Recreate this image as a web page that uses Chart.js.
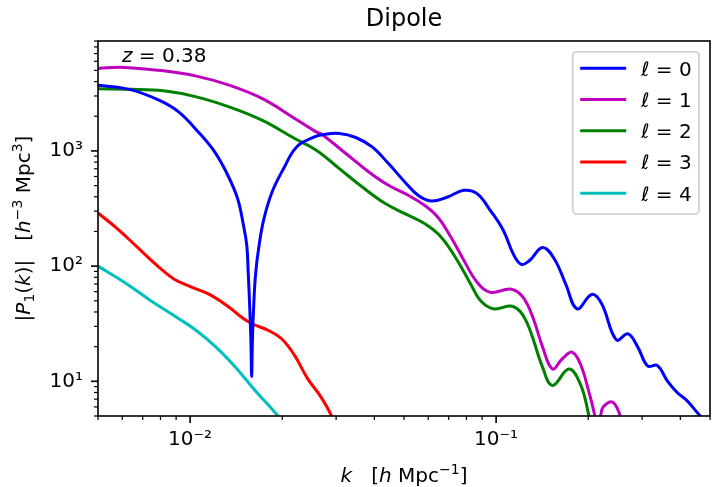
<!DOCTYPE html>
<html>
<head>
<meta charset="utf-8">
<script src="https://cdn.jsdelivr.net/npm/chart.js@4.4.1/dist/chart.umd.min.js"></script>
<style>
    html, body { margin: 0; padding: 0; overflow: hidden; background: #fff; }
    #wrap { width: 722px; height: 487px; }
</style>
</head>
<body>
<div id="wrap"><canvas id="dipole-chart" width="722" height="487"></canvas></div>
<script>
// Dipole multipoles |P_1(k)| at z = 0.38

let kL0 = [0.0050, 0.00633, 0.00791, 0.00917, 0.01063, 0.01203, 0.01328, 0.01429, 0.01494, 0.01532,
    0.01549, 0.01566, 0.01580, 0.01589, 0.01598, 0.01613, 0.01637, 0.01680, 0.01743, 0.01853,
    0.02021, 0.02229, 0.02547, 0.02717, 0.03073, 0.03477, 0.03934, 0.04449, 0.05031, 0.05555,
    0.06135, 0.06937, 0.07849, 0.08662, 0.09566, 0.1056, 0.1137, 0.1209, 0.1286, 0.1419,
    0.1548, 0.1687, 0.1839, 0.2055, 0.2213, 0.2472, 0.2698, 0.2904, 0.3127, 0.3367,
    0.3626, 0.3905, 0.4205, 0.4638, 0.50];
let pL0 = [3726, 3420, 2760, 2183, 1463, 980, 615, 386, 226, 151,
    85.9, 44.0, 22.6, 11.0, 22.6, 44.0, 85.9, 151, 258, 440,
    703, 1083, 1323, 1388, 1417, 1308, 1083, 777, 538, 412,
    367, 398, 455, 426, 305, 204, 128, 103.5, 112, 145,
    116, 70.3, 42.6, 56.8, 47.1, 22.9, 25.8, 19.8, 13.6, 13.7,
    10.1, 8.0, 6.8, 5.03, 4.2];

let kL1 = [0.0050, 0.00609, 0.00819, 0.01048, 0.01341, 0.01717, 0.02197, 0.02547, 0.02717, 0.03228,
    0.03836, 0.04449, 0.05160, 0.05837, 0.06442, 0.07114, 0.07849, 0.08662, 0.09566, 0.1122,
    0.1224, 0.1318, 0.1419, 0.1528, 0.1646, 0.1772, 0.1884, 0.2005, 0.2106, 0.2149,
    0.2213, 0.2297, 0.2401, 0.2491, 0.2547, 0.2604];
let pL1 = [5206, 5312, 4963, 4462, 3726, 2855, 1913, 1493, 1369, 949,
    657, 503, 412, 337, 267, 179, 112, 72.6, 59.4, 63.1,
    53.8, 36.0, 19.8, 12.8, 15.7, 17.9, 14.2, 8.3, 4.86, 3.05,
    5.6, 6.4, 6.6, 5.8, 4.86, 3.05];

let kL2 = [0.0050, 0.00639, 0.00819, 0.01048, 0.01341, 0.01717, 0.02197, 0.02585, 0.03073, 0.03653,
    0.04342, 0.05031, 0.05837, 0.06606, 0.07468, 0.08247, 0.08884, 0.09802, 0.1137, 0.1252,
    0.1419, 0.1528, 0.1729, 0.1884, 0.2005, 0.2086];
let pL2 = [3459, 3430, 3324, 2948, 2413, 1849, 1282, 1014, 703, 486,
    349, 286, 234, 179, 112, 70.3, 50.3, 42.6, 44.6, 33.7,
    13.2, 9.2, 12.8, 9.5, 5.2, 3.05];

let kL3 = [0.0050, 0.00579, 0.00672, 0.00779, 0.00882, 0.00997, 0.01156, 0.01341, 0.01481, 0.01594,
    0.01803, 0.01991, 0.02197, 0.02424, 0.02678, 0.02895, 0.02999];
let pL3 = [289, 211, 146, 101.4, 77.7, 66.6, 56.8, 44.0, 35.6, 31.6,
    27.6, 23.4, 16.7, 10.5, 7.3, 5.03, 3.73];

let kL4 = [0.0050, 0.00609, 0.00742, 0.00903, 0.01048, 0.01215, 0.01409, 0.01633, 0.01933, 0.01995];
let pL4 = [100, 72.6, 50.3, 36.0, 27.6, 19.8, 13.2, 8.3, 5.03, 4.37];

let seriesLabels = ['ℓ = 0', 'ℓ = 1', 'ℓ = 2', 'ℓ = 3', 'ℓ = 4'];
let seriesColors = ['#0000ff', '#bf00bf', '#008000', '#ff0000', '#00bfbf'];

let kRange = [0.005, 0.5];
let pRange = [5, 9000];
let titleText = 'Dipole';
let redshiftText = 'z = 0.38';

const fontFamily = '"DejaVu Sans", "Liberation Sans", sans-serif';
const supChars = { '-': '⁻', '0': '⁰', '1': '¹', '2': '²', '3': '³', '4': '⁴', '5': '⁵', '6': '⁶', '7': '⁷', '8': '⁸', '9': '⁹' };

function isPow10(v) {
    let e = Math.log10(v);
    return Math.abs(e - Math.round(e)) < 1e-6;
}

function powLabel(v) {
    let e = String(Math.round(Math.log10(v)));
    return '10' + e.split('').map(c => supChars[c]).join('');
}

// 1..9 x 10^n inside the range, like matplotlib's log locator
function logTicks(range) {
    let out = [];
    for (let e = Math.floor(Math.log10(range[0])); e <= Math.ceil(Math.log10(range[1])); e++) {
        for (let m = 1; m <= 9; m++) {
            let v = parseFloat((m * Math.pow(10, e)).toPrecision(6));
            if (v >= range[0] * 0.9999 && v <= range[1] * 1.0001) out.push(v);
        }
    }
    return out;
}

function toPoints(ks, ps) {
    return ks.map((k, i) => ({ x: k, y: ps[i] }));
}

function drawParts(ctx, parts, x, y, align) {
    const fontOf = p => (p.it ? 'italic ' : '') + ((p.sup || p.sub) ? 14 : 20) + 'px ' + fontFamily;
    let widths = parts.map(p => { ctx.font = fontOf(p); return ctx.measureText(p.t).width; });
    let total = widths.reduce((a, b) => a + b, 0);
    let cx = align === 'center' ? x - total / 2 : x;
    parts.forEach((p, i) => {
        ctx.font = fontOf(p);
        ctx.fillText(p.t, cx, y + (p.sup ? -8 : p.sub ? 4 : 0));
        cx += widths[i];
    });
}

const decorations = {
    id: 'decorations',
    afterDraw(chart) {
        const ctx = chart.ctx;
        const area = chart.chartArea;
        const xs = chart.scales.x;
        const ys = chart.scales.y;
        ctx.save();
        ctx.strokeStyle = '#000';
        ctx.fillStyle = '#000';

        // tick marks, outward
        xs.ticks.forEach(t => {
            let major = isPow10(t.value);
            let px = xs.getPixelForValue(t.value);
            ctx.lineWidth = major ? 1.6 : 1.2;
            ctx.beginPath();
            ctx.moveTo(px, area.bottom);
            ctx.lineTo(px, area.bottom + (major ? 7 : 4));
            ctx.stroke();
        });
        ys.ticks.forEach(t => {
            let major = isPow10(t.value);
            let py = ys.getPixelForValue(t.value);
            ctx.lineWidth = major ? 1.6 : 1.2;
            ctx.beginPath();
            ctx.moveTo(area.left, py);
            ctx.lineTo(area.left - (major ? 7 : 4), py);
            ctx.stroke();
        });

        // frame
        ctx.lineWidth = 1.6;
        ctx.strokeRect(area.left, area.top, area.right - area.left, area.bottom - area.top);

        // axis labels
        ctx.textAlign = 'left';
        ctx.textBaseline = 'alphabetic';
        drawParts(ctx, [
            { t: 'k', it: true }, { t: '   [' }, { t: 'h', it: true }, { t: ' Mpc' },
            { t: '−1', sup: true }, { t: ']' }
        ], (area.left + area.right) / 2, 481.5, 'center');

        ctx.save();
        ctx.translate(30, (area.top + area.bottom) / 2);
        ctx.rotate(-Math.PI / 2);
        drawParts(ctx, [
            { t: '|' }, { t: 'P', it: true }, { t: '1', sub: true }, { t: '(' }, { t: 'k', it: true },
            { t: ')|   [' }, { t: 'h', it: true }, { t: '−3', sup: true }, { t: ' Mpc' },
            { t: '3', sup: true }, { t: ']' }
        ], 0, 0, 'center');
        ctx.restore();

        // redshift note
        let zParts = redshiftText.split(' = ');
        drawParts(ctx, [{ t: zParts[0], it: true }, { t: ' = ' + zParts[1] }], area.left + 24, area.top + 20.7, 'left');

        // legend box in the upper right
        let boxW = 126.3, boxH = 162.3;
        let bx = area.right - 11 - boxW, by = area.top + 10.7;
        ctx.beginPath();
        ctx.roundRect(bx, by, boxW, boxH, 4);
        ctx.fillStyle = 'rgba(255, 255, 255, 0.8)';
        ctx.fill();
        ctx.strokeStyle = '#cccccc';
        ctx.lineWidth = 1.6;
        ctx.stroke();

        ctx.font = '20px ' + fontFamily;
        chart.data.datasets.forEach((ds, i) => {
            let ly = by + 16.6 + i * 31.25;
            ctx.strokeStyle = ds.borderColor;
            ctx.lineWidth = 3;
            ctx.beginPath();
            ctx.moveTo(bx + 7.5, ly);
            ctx.lineTo(bx + 53.5, ly);
            ctx.stroke();
            ctx.fillStyle = '#000';
            ctx.fillText(ds.label, bx + 68.5, ly + 7.3);
        });
        ctx.restore();
    }
};

let dipoleCtx = document.getElementById('dipole-chart').getContext('2d');

let seriesK = [kL0, kL1, kL2, kL3, kL4];
let seriesP = [pL0, pL1, pL2, pL3, pL4];

let dipoleChart = new Chart(dipoleCtx, {
    type: 'line',
    data: {
        datasets: seriesK.map((ks, i) => ({
            label: seriesLabels[i],
            data: toPoints(ks, seriesP[i]),
            borderColor: seriesColors[i],
            backgroundColor: seriesColors[i],
            borderWidth: 3,
            pointRadius: 0,
            fill: false,
            tension: 0.4
        }))
    },
    options: {
        responsive: false,
        animation: false,
        devicePixelRatio: 1,
        events: [],
        layout: {
            padding: { left: 0, right: 2, top: 0, bottom: 0 }
        },
        scales: {
            x: {
                type: 'logarithmic',
                min: kRange[0],
                max: kRange[1],
                afterBuildTicks: axis => { axis.ticks = logTicks(kRange).map(v => ({ value: v })); },
                afterFit: axis => { axis.height = 487 - 416; },
                grid: { display: false, drawTicks: false },
                border: { display: false },
                ticks: {
                    autoSkip: false,
                    maxRotation: 0,
                    padding: 12,
                    color: '#000',
                    font: { family: fontFamily, size: 20 },
                    callback: v => isPow10(v) ? powLabel(v) : ''
                }
            },
            y: {
                type: 'logarithmic',
                min: pRange[0],
                max: pRange[1],
                afterBuildTicks: axis => { axis.ticks = logTicks(pRange).map(v => ({ value: v })); },
                afterFit: axis => { axis.width = 98; },
                grid: { display: false, drawTicks: false },
                border: { display: false },
                ticks: {
                    autoSkip: false,
                    padding: 15,
                    color: '#000',
                    font: { family: fontFamily, size: 20 },
                    callback: v => isPow10(v) ? powLabel(v) : ''
                }
            }
        },
        plugins: {
            legend: { display: false },
            tooltip: { enabled: false },
            title: {
                display: true,
                text: titleText,
                fullSize: false,
                color: '#000',
                font: { family: fontFamily, size: 24, weight: 'normal', lineHeight: 1.2 },
                padding: { top: 5, bottom: 7.2 }
            }
        }
    },
    plugins: [decorations]
});
</script>
</body>
</html>
